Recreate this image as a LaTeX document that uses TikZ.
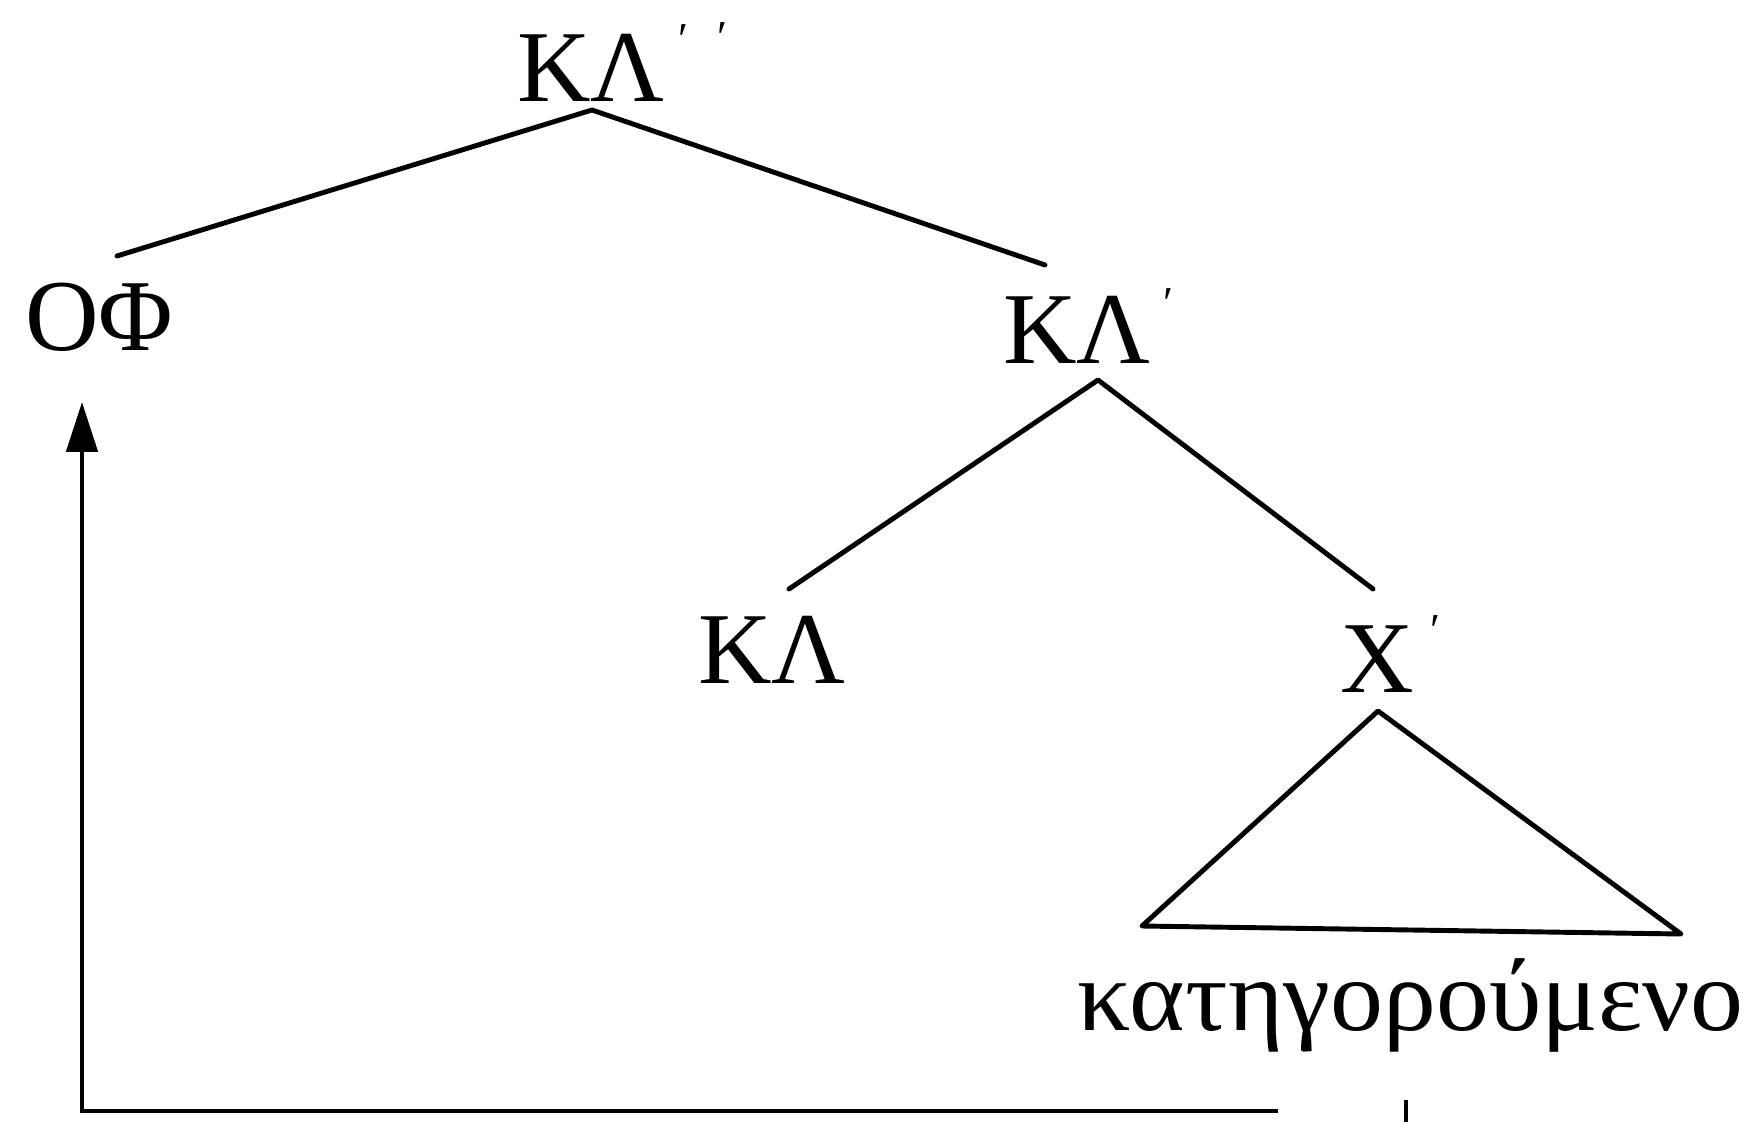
\documentclass[tikz,border=0pt]{standalone}
\usepackage{fontspec}
\setmainfont{Liberation Serif}
\usetikzlibrary{arrows.meta}
\begin{document}
\begin{tikzpicture}[x=0.02cm,y=-0.02cm,
  lab/.style={inner sep=0pt,anchor=base west,font=\fontsize{58}{60}\selectfont},
  br/.style={line width=2.8pt,line cap=round,line join=round},
  pr/.style={inner sep=0pt,font=\fontsize{26}{26}\selectfont}]
\useasboundingbox (0,0) rectangle (1743,1122);
% labels
\node[lab] (kl2) at (517,102) {ΚΛ};
\node[pr] (kl2p1) at (683,40) {′};
\node[pr] (kl2p2) at (722,38) {′};
\node[lab] (of) at (25,350) {ΟΦ};
\node[lab] (kl1) at (1003,363) {ΚΛ};
\node[pr] (kl1p) at (1168,304) {′};
\node[lab] (kl) at (698,683) {ΚΛ};
\node[lab] (x1) at (1340,692) {Χ};
\node[pr] (x1p) at (1435,631) {′};
\node[lab] (kat) at (1077,1030) {\scalebox{1.04}[1]{κατηγορούμενο}};
% branch points
\coordinate (a1) at (592,110);
\coordinate (l1) at (117,256);
\coordinate (r1) at (1045,265);
\coordinate (a2) at (1098,380);
\coordinate (l2) at (789,589);
\coordinate (r2) at (1373,589);
\coordinate (a3) at (1378,711);
\coordinate (b3l) at (1142,926);
\coordinate (b3r) at (1681,934);
% tree lines
\draw[br] (l1) -- (a1) -- (r1);
\draw[br] (l2) -- (a2) -- (r2);
\draw[br] (a3) -- (b3l) -- (b3r) -- cycle;
% movement arrow
\coordinate (m0) at (1406,1100);
\coordinate (m1) at (1406,1122);
\coordinate (m2) at (1278,1111);
\coordinate (m3) at (82,1111);
\coordinate (m4) at (82,402);
\draw[line width=2.8pt] (m0) -- (m1);
\draw[line width=2.8pt,-{Triangle[length=1cm,width=0.62cm]}] (m2) -- (m3) -- (m4);
\end{tikzpicture}
\end{document}
